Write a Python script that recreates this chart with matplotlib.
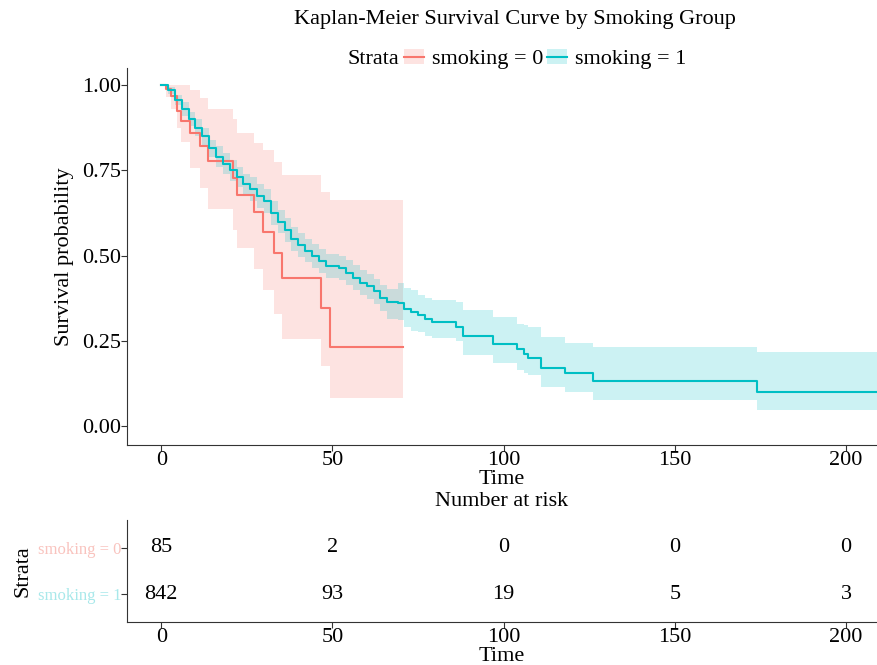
import matplotlib
matplotlib.use("Agg")
import matplotlib.pyplot as plt
from matplotlib.patches import Patch
from matplotlib.lines import Line2D

plt.rcParams['font.family'] = ['Liberation Serif', 'DejaVu Serif']

RED = '#F8766D'
TEAL = '#00BFC4'

# smoking = 0
t0 = [0, 1.5, 2.9, 4.6, 5.8, 8.3, 11.2, 13.6, 20.9, 22.2, 27.0, 29.8, 32.8, 35.3, 46.6, 49.2]
s0 = [1.0, 0.988, 0.967, 0.923, 0.895, 0.859, 0.820, 0.776, 0.728, 0.679, 0.627, 0.570, 0.507, 0.433, 0.348, 0.233]
lo0 = [1.0, 0.965, 0.93, 0.875, 0.834, 0.756, 0.697, 0.638, 0.575, 0.521, 0.462, 0.399, 0.330, 0.257, 0.176, 0.082]
hi0 = [1.0, 1.0, 1.0, 1.0, 1.0, 0.985, 0.961, 0.93, 0.90, 0.86, 0.83, 0.81, 0.775, 0.736, 0.687, 0.663]
end0 = 70.7

# smoking = 1
t1 = [0, 2, 4, 6, 8, 10, 12, 14, 16, 18, 20, 22, 24, 26, 28, 30, 32, 34, 36, 38,
      40, 42, 44, 46, 48, 52, 54, 56, 58, 60, 62, 64, 66, 69, 71, 73, 75, 77, 79,
      86, 88, 97, 104, 106, 107, 111, 118, 126, 174]
s1 = [1.0, 0.985, 0.955, 0.93, 0.90, 0.875, 0.85, 0.815, 0.79, 0.77, 0.75, 0.73, 0.71, 0.695, 0.675, 0.66, 0.625, 0.60, 0.575, 0.55,
      0.53, 0.515, 0.50, 0.485, 0.47, 0.465, 0.45, 0.435, 0.42, 0.41, 0.395, 0.375, 0.365, 0.36, 0.345, 0.335, 0.325, 0.313, 0.306,
      0.29, 0.264, 0.24, 0.225, 0.213, 0.201, 0.172, 0.156, 0.133, 0.101]
lo1 = [1.0, 0.975, 0.94, 0.91, 0.88, 0.85, 0.825, 0.79, 0.76, 0.74, 0.72, 0.70, 0.68, 0.66, 0.64, 0.625, 0.59, 0.565, 0.54, 0.515,
       0.495, 0.48, 0.465, 0.45, 0.435, 0.43, 0.415, 0.40, 0.385, 0.373, 0.358, 0.338, 0.315, 0.31, 0.29, 0.28, 0.275, 0.265, 0.258,
       0.25, 0.21, 0.185, 0.165, 0.155, 0.15, 0.115, 0.10, 0.076, 0.047]
hi1 = [1.0, 0.995, 0.97, 0.95, 0.92, 0.90, 0.875, 0.84, 0.82, 0.80, 0.78, 0.76, 0.74, 0.73, 0.71, 0.695, 0.66, 0.635, 0.61, 0.585,
       0.565, 0.55, 0.535, 0.52, 0.505, 0.50, 0.487, 0.472, 0.457, 0.447, 0.432, 0.413, 0.403, 0.42, 0.405, 0.40, 0.385, 0.375, 0.37,
       0.365, 0.34, 0.32, 0.30, 0.296, 0.29, 0.262, 0.244, 0.231, 0.218]
end1 = 209

risk_times = [0, 50, 100, 150, 200]
risk0 = [85, 2, 0, 0, 0]
risk1 = [842, 93, 19, 5, 3]

fig = plt.figure(figsize=(8.77, 6.65), dpi=100)
ax = fig.add_axes([0.1448, 0.3308, 0.8552, 0.567])
ax2 = fig.add_axes([0.1448, 0.0647, 0.8552, 0.1533])

def draw(t, s, lo, hi, end, col):
    tt = t + [end]
    ax.fill_between(tt, lo + [lo[-1]], hi + [hi[-1]], step='post', color=col, alpha=0.2, lw=0)
    ax.step(tt, s + [s[-1]], where='post', color=col, lw=1.5)

draw(t0, s0, lo0, hi0, end0, RED)
draw(t1, s1, lo1, hi1, end1, TEAL)

for a in (ax, ax2):
    a.spines['top'].set_visible(False)
    a.spines['right'].set_visible(False)
    a.spines['left'].set_color('#333333')
    a.spines['bottom'].set_color('#333333')
    a.set_xlim(-10, 209)
    a.set_xticks(risk_times)
    a.tick_params(length=4, color='#333333', labelsize=16, labelcolor='black', pad=0)

ax.set_ylim(-0.055, 1.05)
ax.set_yticks([0, 0.25, 0.5, 0.75, 1.0])
ax.set_yticklabels(['0.00', '0.25', '0.50', '0.75', '1.00'])
ax.set_xlabel('Time', fontsize=16, labelpad=0)
ax.set_ylabel('Survival probability', fontsize=16, labelpad=6)

fig.text(0.587, 0.970, 'Kaplan-Meier Survival Curve by Smoking Group', ha='center', va='center', fontsize=16)
fig.text(0.426, 0.911, 'Strata', ha='center', va='center', fontsize=16)
handles = [(Patch(facecolor=RED, alpha=0.2, lw=0), Line2D([], [], color=RED, lw=1.5)),
           (Patch(facecolor=TEAL, alpha=0.2, lw=0), Line2D([], [], color=TEAL, lw=1.5))]
fig.legend(handles, ['smoking = 0', 'smoking = 1'], loc='center left', bbox_to_anchor=(0.461, 0.911),
           ncol=2, frameon=False, fontsize=16, handlelength=0.9, handletextpad=0.35,
           columnspacing=0.15, borderpad=0, borderaxespad=0)

# risk table
ax2.set_ylim(0.4, 2.6)
ax2.set_yticks([2, 1])
ax2.set_yticklabels(['smoking = 0', 'smoking = 1'], fontsize=12)
ax2.get_yticklabels()[0].set_color('#F9C3BE')
ax2.get_yticklabels()[1].set_color('#A8E8EA')
for x, n in zip(risk_times, risk0):
    ax2.text(x, 2, str(n), ha='center', va='center', fontsize=16)
for x, n in zip(risk_times, risk1):
    ax2.text(x, 1, str(n), ha='center', va='center', fontsize=16)
ax2.set_xlabel('Time', fontsize=16, labelpad=0)
ax2.set_ylabel('Strata', fontsize=16, labelpad=4)
ax2.set_title('Number at risk', fontsize=16, pad=10)

fig.savefig('out.png', dpi=100)
